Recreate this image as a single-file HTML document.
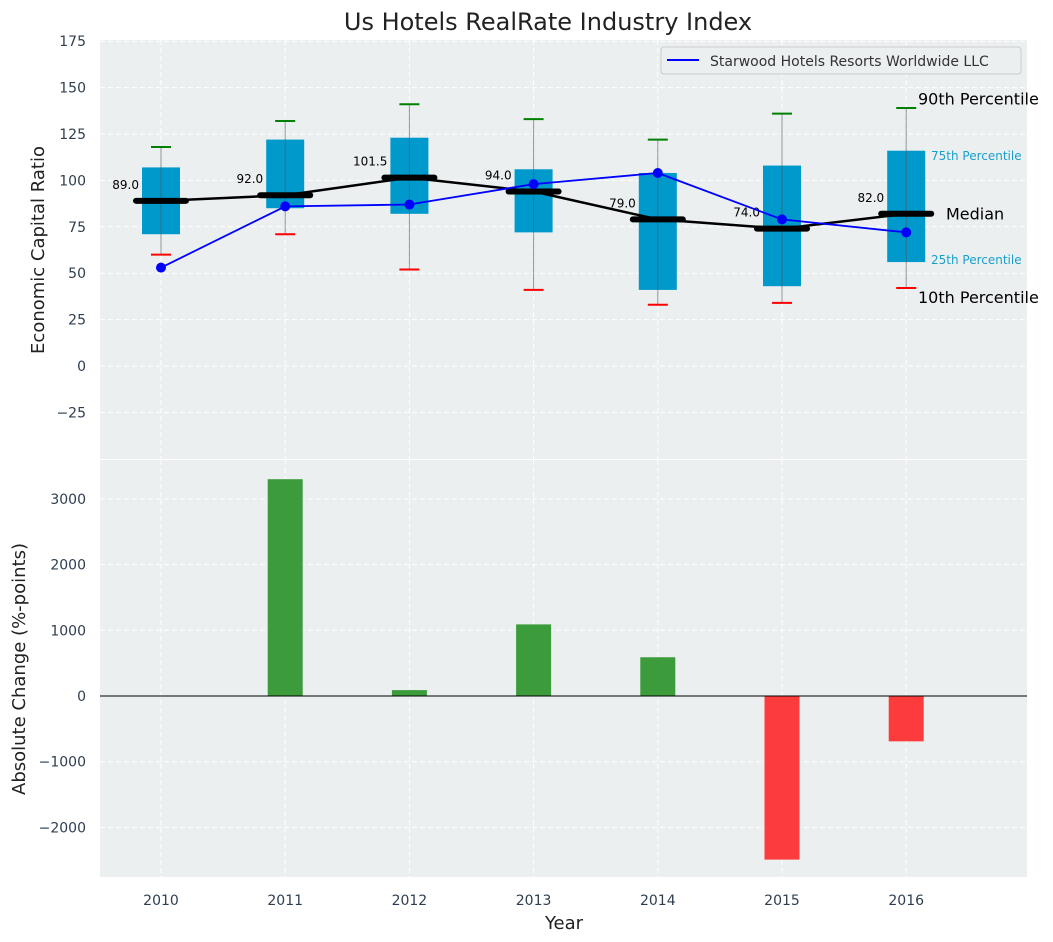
<!DOCTYPE html>
<html><head><meta charset="utf-8"><style>
body{margin:0;background:#fff;}
svg{display:block;font-family:"DejaVu Sans","Liberation Sans",sans-serif;}
</style></head><body>
<svg id="c" width="1053" height="942" xmlns="http://www.w3.org/2000/svg"></svg>
<script>
const years=["2010","2011","2012","2013","2014","2015","2016"];
const p10=[60,71,52,41,33,34,42];
const q1=[71,85,82,72,41,43,56];
const median=[89,92,101.5,94,79,74,82];
const q3=[107,122,123,106,104,108,116];
const p90=[118,132,141,133,122,136,139];
const starwood=[53,86,87,98,104,79,72];
const changes=[null,3300,90,1090,590,-2490,-690];
const topTicks=[175,150,125,100,75,50,25,0,-25];
const botTicks=[3000,2000,1000,0,-1000,-2000];

const NS="http://www.w3.org/2000/svg";
const svg=document.getElementById('c');
function el(t,a,p){const e=document.createElementNS(NS,t);for(const k in a)e.setAttribute(k,a[k]);(p||svg).appendChild(e);return e;}
const L=100,R=1027;
const x=i=>161+i*124.2;
const T0=40,T1=459,B0=460,B1=877;
const yt=v=>366-(v)*1.856;
const yb=v=>696-v*0.0657;

let e;
e=el('rect',{x:L,y:T0,width:R-L,height:T1-T0,fill:'#ebeff0'});

e=el('rect',{x:L,y:B0,width:R-L,height:B1-B0,fill:'#ebeff0'});


years.forEach((y,i)=>{
 el('line',{x1:x(i),x2:x(i),y1:T0,y2:T1,stroke:'#fff','stroke-dasharray':'5,3','stroke-width':1});
 el('line',{x1:x(i),x2:x(i),y1:B0,y2:B1,stroke:'#fff','stroke-dasharray':'5,3','stroke-width':1});
 e=el('text',{x:x(i),y:905,'text-anchor':'middle','font-size':14,fill:'#2e3e50'});e.textContent=y;
 
});
topTicks.forEach(v=>{
 el('line',{x1:L,x2:R,y1:yt(v),y2:yt(v),stroke:'#fff','stroke-dasharray':'5,3'});
 e=el('text',{x:86,y:yt(v)+5,'text-anchor':'end','font-size':14,fill:'#2e3e50'});e.textContent=v<0?'\u2212'+(-v):v;
 
});
botTicks.forEach(v=>{
 el('line',{x1:L,x2:R,y1:yb(v),y2:yb(v),stroke:'#fff','stroke-dasharray':'5,3'});
 e=el('text',{x:86,y:yb(v)+5,'text-anchor':'end','font-size':14,fill:'#2e3e50'});e.textContent=v<0?'\u2212'+(-v):v;
 
});

years.forEach((y,i)=>{
 e=el('rect',{x:x(i)-19,y:yt(q3[i]),width:38,height:yt(q1[i])-yt(q3[i]),fill:'#0099cc'});
 
 el('line',{x1:x(i),x2:x(i),y1:yt(p10[i]),y2:yt(p90[i]),stroke:'#555','stroke-opacity':0.6,'stroke-width':1});
 e=el('line',{x1:x(i)-10,x2:x(i)+10,y1:yt(p90[i]),y2:yt(p90[i]),stroke:'green','stroke-width':2});
 
 e=el('line',{x1:x(i)-10,x2:x(i)+10,y1:yt(p10[i]),y2:yt(p10[i]),stroke:'red','stroke-width':2});
 
});
e=el('polyline',{points:median.map((v,i)=>x(i)+','+yt(v)).join(' '),fill:'none',stroke:'#000','stroke-width':2.5});

years.forEach((y,i)=>{
 e=el('line',{x1:x(i)-25,x2:x(i)+25,y1:yt(median[i]),y2:yt(median[i]),stroke:'#000','stroke-width':6,'stroke-linecap':'round'});
 
 e=el('text',{x:x(i)-22,y:yt(median[i])-12,'text-anchor':'end','font-size':12,fill:'#000'});e.textContent=median[i].toFixed(1);
 
});
e=el('polyline',{points:starwood.map((v,i)=>x(i)+','+yt(v)).join(' '),fill:'none',stroke:'#0000ff','stroke-width':1.8});

starwood.forEach((v,i)=>{e=el('circle',{cx:x(i),cy:yt(v),r:5,fill:'#0000ff'});
 });

const li=6;
const ann=[['90th Percentile',918,p90[li]+2,16,'#000'],['75th Percentile',931,q3[li]-5,12,'#1a9fcc'],['Median',946,median[li]-3,16,'#000'],['25th Percentile',931,q1[li]-1,12,'#1a9fcc'],['10th Percentile',918,p10[li]-8,16,'#000']];
ann.forEach(a=>{e=el('text',{x:a[1],y:yt(a[2]),'font-size':a[3],fill:a[4]});e.textContent=a[0];
 });

const lg=el('g',{});

el('rect',{x:661,y:47,width:360,height:27,rx:3,fill:'#ebeff0',stroke:'#ccc'},lg);
el('line',{x1:667,x2:699,y1:60,y2:60,stroke:'#0000ff','stroke-width':2},lg);
e=el('text',{x:710,y:66,'font-size':14,fill:'#333'},lg);e.textContent='Starwood Hotels Resorts Worldwide LLC';

changes.forEach((v,i)=>{ if(v===null)return;
 const y0=yb(Math.max(v,0)),h=Math.abs(yb(v)-yb(0));
 e=el('rect',{x:x(i)-17.5,y:y0,width:35,height:h,fill:v>=0?'#3c9c3c':'#fc3c3c'});
 
});
el('line',{x1:L,x2:R,y1:yb(0),y2:yb(0),stroke:'#000','stroke-width':1});

e=el('text',{x:548,y:30,'text-anchor':'middle','font-size':24,fill:'#222'});e.textContent='Us Hotels RealRate Industry Index';

e=el('text',{x:0,y:0,'text-anchor':'middle','font-size':18,fill:'#222',transform:'translate(44,250) rotate(-90)'});e.textContent='Economic Capital Ratio';

e=el('text',{x:0,y:0,'text-anchor':'middle','font-size':18,fill:'#222',transform:'translate(25,669) rotate(-90)'});e.textContent='Absolute Change (%-points)';

e=el('text',{x:564,y:929,'text-anchor':'middle','font-size':18,fill:'#222'});e.textContent='Year';

</script>
</body></html>
